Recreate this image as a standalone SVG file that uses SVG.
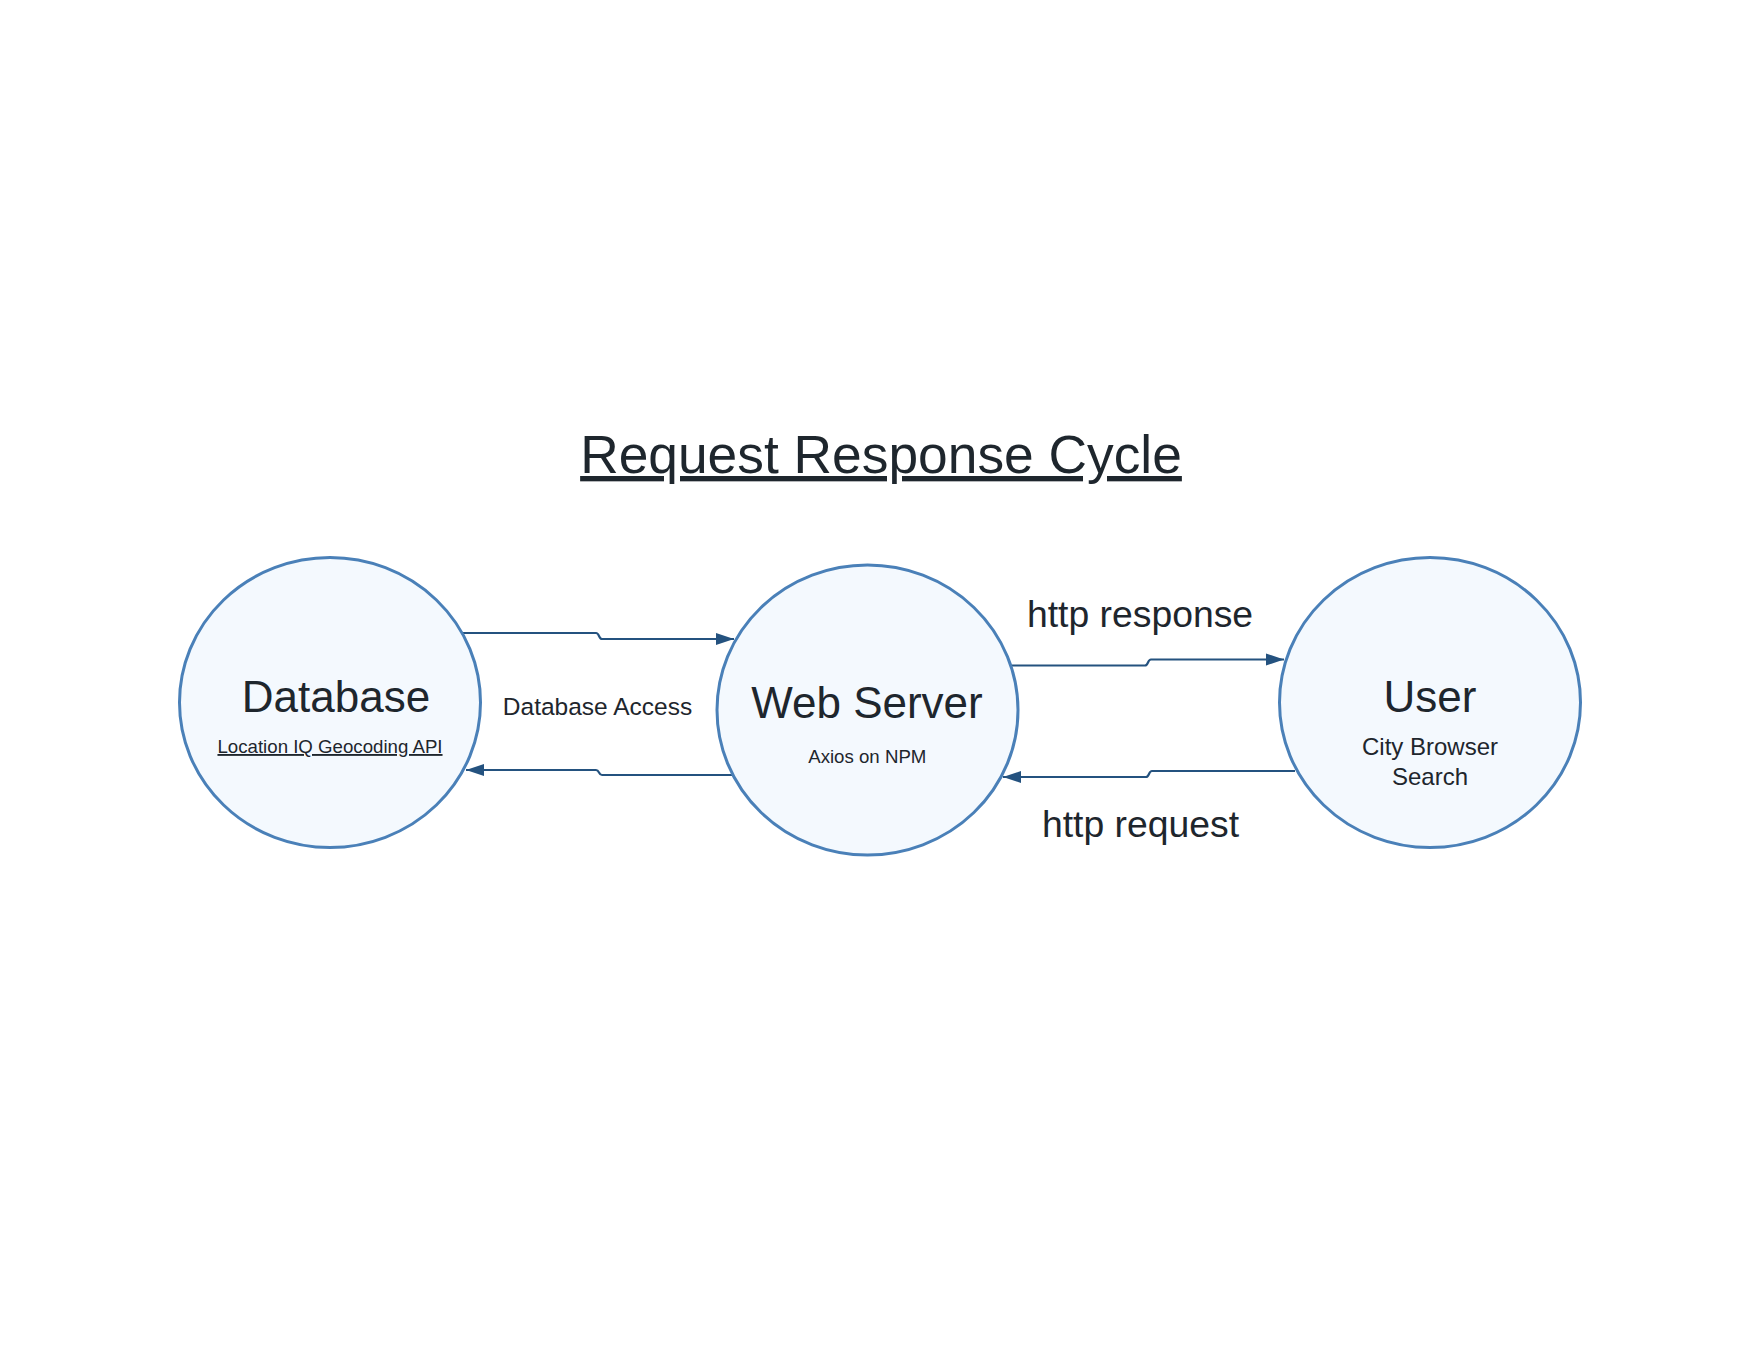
<svg xmlns="http://www.w3.org/2000/svg" width="1760" height="1360" viewBox="0 0 1760 1360">
<style>
.node{fill:#f4f9fe;stroke:#4a80b8;stroke-width:3}
.conn{fill:none;stroke:#24527f;stroke-width:2.2}
text{font-family:"Liberation Sans",Arial,sans-serif;fill:#1e262d;text-anchor:middle}
.big{font-size:44px}
.sub{font-size:18.67px}
.mid{font-size:24px}
.lbl{font-size:37.33px}
</style>
<defs>
<marker id="arr" markerWidth="19" markerHeight="13" refX="18" refY="6.5" orient="auto" markerUnits="userSpaceOnUse" viewBox="0 0 19 13">
<path d="M0,0.5 L18,6.5 L0,12.5 Z" fill="#24527f"/>
</marker>
</defs>
<rect width="1760" height="1360" fill="#ffffff"/>
<g id="title">
<text x="881" y="473" style="font-size:53.33px;text-decoration:underline">Request Response Cycle</text>
</g>
<g id="connectors">
<path class="conn" d="M463,633 L596,633 C599.5,633 598.5,639 602,639 L734,639" marker-end="url(#arr)"/>
<path class="conn" d="M732,775 L602,775 C598.5,775 599.5,770 596,770 L466,770" marker-end="url(#arr)"/>
<path class="conn" d="M1012,665.5 L1145,665.5 C1148.5,665.5 1147.5,659.5 1151,659.5 L1284,659.5" marker-end="url(#arr)"/>
<path class="conn" d="M1295,771 L1152,771 C1148.5,771 1149.5,777 1146,777 L1003,777" marker-end="url(#arr)"/>
<text class="mid" x="597.5" y="715" style="font-size:24.5px">Database Access</text>
<text class="lbl" x="1140" y="627">http response</text>
<text class="lbl" x="1140.5" y="837">http request</text>
</g>
<g id="database">
<ellipse class="node" cx="330" cy="702.5" rx="150.5" ry="145"/>
<text class="big" x="336" y="712">Database</text>
<text class="sub" x="330" y="753" style="text-decoration:underline">Location IQ Geocoding API</text>
</g>
<g id="webserver">
<ellipse class="node" cx="867.5" cy="710" rx="150.5" ry="145"/>
<text class="big" x="867" y="718">Web Server</text>
<text class="sub" x="867.3" y="763">Axios on NPM</text>
</g>
<g id="user">
<ellipse class="node" cx="1430" cy="702.5" rx="150.5" ry="145"/>
<text class="big" x="1430" y="712">User</text>
<text class="mid" x="1430" y="755">City Browser</text>
<text class="mid" x="1430" y="785">Search</text>
</g>
</svg>
